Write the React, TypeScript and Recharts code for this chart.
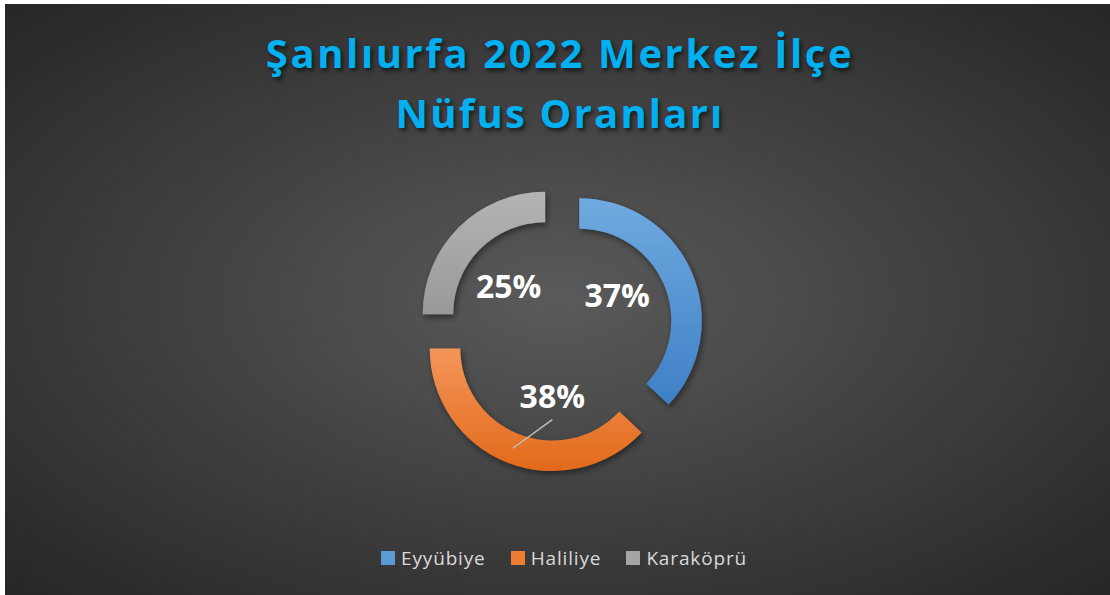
import React from 'react';
import { PieChart, Pie, Cell, Legend, Sector } from 'recharts';

const districts = ['Eyyübiye', 'Haliliye', 'Karaköprü'];
const shares = [37, 38, 25];
const colors = ['#5B9BD5', '#ED7D31', '#A5A5A5'];
const lightColors = ['#70aae0', '#f4965a', '#b4b4b4'];
const darkColors = ['#3e80c6', '#e2691a', '#999999'];

const data = districts.map((name, i) => ({ name, value: shares[i] }));

const RAD = Math.PI / 180;
const EXPLODE = 21;
// labels were dragged a bit off the bisector in the original
const labelTurn = [8, 15, 5];
const hasLeader = [false, true, false];

const ExplodedSector = (props: any) => {
  const { cx, cy, midAngle } = props;
  const dx = EXPLODE * Math.cos(-midAngle * RAD);
  const dy = EXPLODE * Math.sin(-midAngle * RAD);
  return <Sector {...props} cx={cx + dx} cy={cy + dy} />;
};

const renderLabel = (p: any) => {
  const { cx, cy, midAngle, index, value, innerRadius, outerRadius } = p;
  const a = (midAngle + labelTurn[index]) * RAD;
  const lx = cx + 67 * Math.cos(-a);
  const ly = cy + 67 * Math.sin(-a);
  const ex = cx + EXPLODE * Math.cos(-midAngle * RAD);
  const ey = cy + EXPLODE * Math.sin(-midAngle * RAD);
  const rm = (innerRadius + outerRadius) / 2;
  const rx = ex + rm * Math.cos(-midAngle * RAD);
  const ry = ey + rm * Math.sin(-midAngle * RAD);
  return (
    <g key={`lbl-${index}`}>
      {hasLeader[index] && (
        <line x1={lx} y1={ly + 24} x2={rx} y2={ry} stroke="#bfbfbf" strokeWidth={1.5} />
      )}
      <text
        x={lx}
        y={ly}
        fill="#ffffff"
        textAnchor="middle"
        dominantBaseline="central"
        style={{ fontFamily: '"Open Sans", sans-serif', fontWeight: 700, fontSize: 32 }}
      >
        {`${value}%`}
      </text>
    </g>
  );
};

const LegendContent = ({ payload }: any) => (
  <div
    style={{
      display: 'flex',
      justifyContent: 'center',
      gap: 25,
      paddingLeft: 8,
      fontFamily: '"Open Sans", sans-serif',
      fontSize: 19,
      letterSpacing: 0.85,
      color: '#d9d9d9',
    }}
  >
    {(payload || []).map((entry: any, i: number) => (
      <div key={`leg-${i}`} style={{ display: 'flex', alignItems: 'center' }}>
        <span style={{ width: 14, height: 14, background: colors[i], marginRight: 6, display: 'inline-block' }} />
        <span>{entry.value}</span>
      </div>
    ))}
  </div>
);

export default function App() {
  return (
    <div
      style={{
        position: 'absolute',
        left: 5,
        top: 4,
        width: 1105,
        height: 591,
        background: 'radial-gradient(ellipse farthest-corner at 50% 50%, #5a5a5a 0%, #262626 100%)',
        overflow: 'hidden',
      }}
    >
      <div
        style={{
          position: 'absolute',
          top: 19,
          left: 0,
          width: 1110,
          textAlign: 'center',
          fontFamily: '"Open Sans", sans-serif',
          fontWeight: 700,
          fontSize: 40,
          lineHeight: '60px',
          letterSpacing: 2.6,
          color: '#00B0F0',
          textShadow: '2px 3px 4px rgba(0,0,0,0.6)',
        }}
      >
        <div>Şanlıurfa 2022 Merkez İlçe</div>
        <div style={{ letterSpacing: 2.2 }}>Nüfus Oranları</div>
      </div>
      <PieChart width={1105} height={591} style={{ position: 'absolute', left: 0, top: 0 }}>
        <defs>
          {colors.map((c, i) => (
            <linearGradient key={c} id={`grad-${i}`} x1="0" y1="0" x2="0" y2="1">
              <stop offset="0%" stopColor={lightColors[i]} />
              <stop offset="100%" stopColor={darkColors[i]} />
            </linearGradient>
          ))}
          <filter id="shadow" x="-20%" y="-20%" width="140%" height="140%">
            <feDropShadow dx="2" dy="3" stdDeviation="3" floodColor="#000" floodOpacity="0.45" />
          </filter>
        </defs>
        <Pie
          data={data}
          dataKey="value"
          nameKey="name"
          cx={550}
          cy={320}
          innerRadius={92}
          outerRadius={122.5}
          startAngle={90}
          endAngle={-270}
          stroke="none"
          shape={ExplodedSector}
          label={renderLabel}
          labelLine={false}
          isAnimationActive={false}
          style={{ filter: 'url(#shadow)' }}
        >
          {data.map((d, i) => (
            <Cell key={d.name} fill={`url(#grad-${i})`} />
          ))}
        </Pie>
        <Legend content={<LegendContent />} wrapperStyle={{ left: 0, width: 1110, top: 541 }} />
      </PieChart>
    </div>
  );
}
